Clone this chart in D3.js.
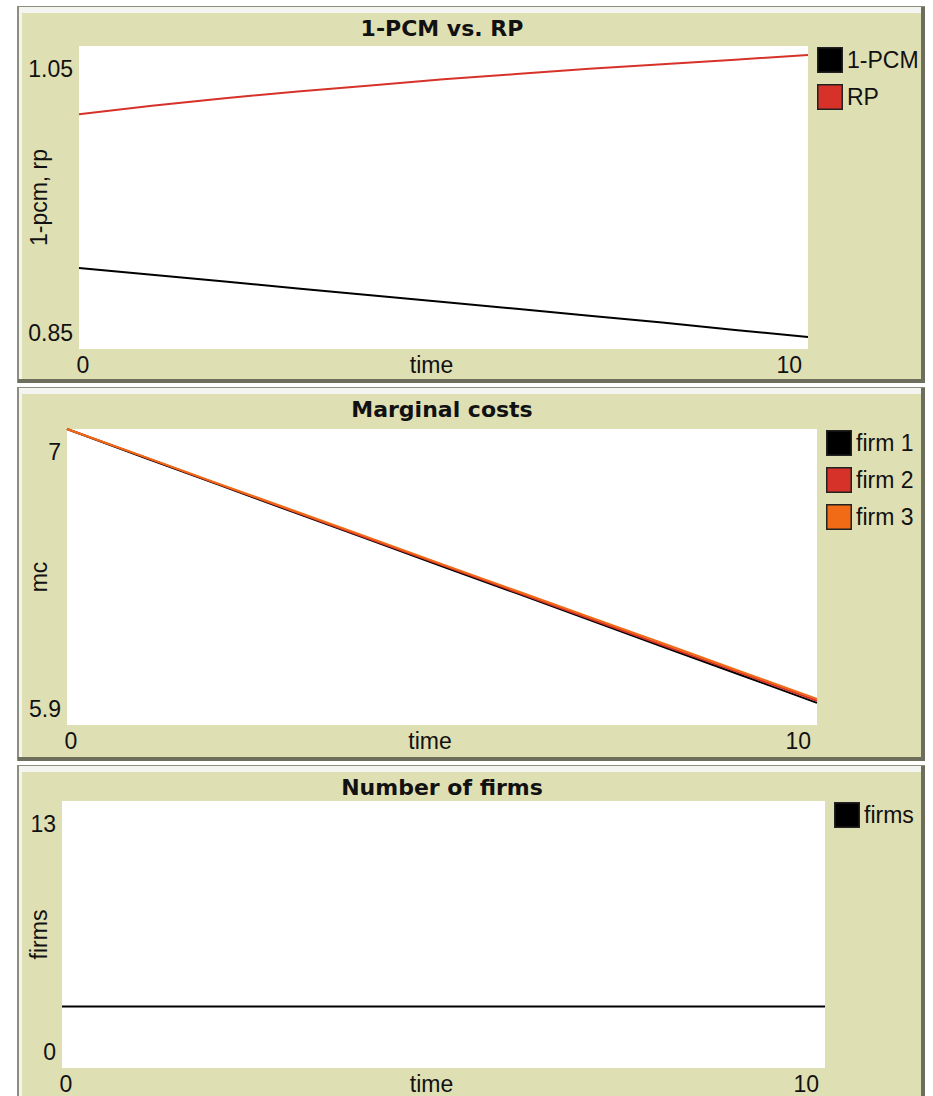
<!DOCTYPE html>
<html>
<head>
<meta charset="utf-8">
<script src="https://cdn.jsdelivr.net/npm/d3@7"></script>
<style>
  body { margin: 0; background: #ffffff; }
  svg { display: block; }
  .tick-label, .axis-title, .legend-label { font-family: "Liberation Sans", Arial, sans-serif; font-size: 23px; fill: #111; }
  .plot-title { font-family: "DejaVu Sans", sans-serif; font-weight: bold; font-size: 22px; fill: #111; }
</style>
</head>
<body>
<div id="chart"></div>
<script>
// Data
const timeSteps = [0, 1, 2, 3, 4, 5, 6, 7, 8, 9, 10];

const pcmValues = [0.9035, 0.899, 0.8945, 0.8900, 0.8855, 0.881, 0.8765, 0.872, 0.8675, 0.8625, 0.858];
const rpValues  = [1.005, 1.0105, 1.0155, 1.020, 1.024, 1.028, 1.0315, 1.035, 1.038, 1.041, 1.044];

const firm1Mc = [7.0, 6.897, 6.795, 6.693, 6.592, 6.490, 6.389, 6.287, 6.185, 6.084, 5.982];
const firm2Mc = [7.0, 6.899, 6.797, 6.696, 6.595, 6.494, 6.393, 6.292, 6.191, 6.091, 5.990];
const firm3Mc = [7.0, 6.900, 6.799, 6.699, 6.599, 6.498, 6.398, 6.298, 6.198, 6.097, 5.997];

const firmsCount = [3, 3, 3, 3, 3, 3, 3, 3, 3, 3, 3];

const plotTitles = ['1-PCM vs. RP', 'Marginal costs', 'Number of firms'];
const yAxisTitles = ['1-pcm, rp', 'mc', 'firms'];
const yDomains = [[0.85, 1.05], [5.9, 7], [0, 13]];
const yTickLabels = [['0.85', '1.05'], ['5.9', '7'], ['0', '13']];
const xTickLabels = ['0', '10'];
const xAxisTitle = 'time';

const seriesNames = [['1-PCM', 'RP'], ['firm 1', 'firm 2', 'firm 3'], ['firms']];
const seriesValues = [[pcmValues, rpValues], [firm1Mc, firm2Mc, firm3Mc], [firmsCount]];
const seriesColors = [['#000000', '#d73229'], ['#000000', '#d73229', '#f16a15'], ['#000000']];

// Panel frames (outer box) and plotting areas
const panels = [
  {outer: {x: 17, y: 6, w: 908, h: 377}, plot: {x0: 79, x1: 808, y0: 46, y1: 349}},
  {outer: {x: 17, y: 387, w: 908, h: 374}, plot: {x0: 67, x1: 817, y0: 429, y1: 725}},
  {outer: {x: 17, y: 765, w: 908, h: 340}, plot: {x0: 62, x1: 825, y0: 801, y1: 1068}}
];

const beige = '#dfdfb4';

const svg = d3.select('#chart').append('svg')
  .attr('width', 933)
  .attr('height', 1096);

svg.append('rect').attr('width', 933).attr('height', 1096).attr('fill', '#ffffff');

panels.forEach((p, i) => {
  const o = p.outer;
  const g = svg.append('g');

  // bevelled frame
  g.append('rect').attr('x', o.x).attr('y', o.y).attr('width', o.w).attr('height', o.h).attr('fill', '#8d8d80');
  g.append('rect').attr('x', o.x + 2).attr('y', o.y + 1).attr('width', o.w - 5).attr('height', o.h - 4).attr('fill', '#f4f4f0');
  g.append('rect').attr('x', o.x + 5).attr('y', o.y + 7).attr('width', o.w - 9).attr('height', o.h - 11).attr('fill', beige);
  g.append('rect').attr('x', o.x + o.w - 4).attr('y', o.y + 1).attr('width', 4).attr('height', o.h - 1).attr('fill', '#6e6e5c');
  g.append('rect').attr('x', o.x + 1).attr('y', o.y + o.h - 4).attr('width', o.w - 1).attr('height', 4).attr('fill', '#6e6e5c');

  const pl = p.plot;
  g.append('rect')
    .attr('x', pl.x0).attr('y', pl.y0)
    .attr('width', pl.x1 - pl.x0).attr('height', pl.y1 - pl.y0)
    .attr('fill', '#ffffff');

  const x = d3.scaleLinear().domain([timeSteps[0], timeSteps[timeSteps.length - 1]]).range([pl.x0, pl.x1]);
  const y = d3.scaleLinear().domain(yDomains[i]).range([pl.y1, pl.y0]);

  // title
  g.append('text')
    .attr('class', 'plot-title')
    .attr('x', 442)
    .attr('y', o.y + 22)
    .attr('dy', '0.35em')
    .attr('text-anchor', 'middle')
    .text(plotTitles[i]);

  // y tick labels (min at bottom, max at top)
  g.append('text').attr('class', 'tick-label')
    .attr('x', pl.x0 - 6).attr('y', pl.y1 - 16).attr('dy', '0.35em')
    .attr('text-anchor', 'end').text(yTickLabels[i][0]);
  g.append('text').attr('class', 'tick-label')
    .attr('x', pl.x0 - 6).attr('y', pl.y0 + 23).attr('dy', '0.35em')
    .attr('text-anchor', 'end').text(yTickLabels[i][1]);

  // x tick labels
  g.append('text').attr('class', 'tick-label')
    .attr('x', x(0) + 4).attr('y', pl.y1 + 16).attr('dy', '0.35em')
    .attr('text-anchor', 'middle').text(xTickLabels[0]);
  g.append('text').attr('class', 'tick-label')
    .attr('x', x(10) - 6).attr('y', pl.y1 + 16).attr('dy', '0.35em')
    .attr('text-anchor', 'end').text(xTickLabels[1]);

  // axis titles
  g.append('text').attr('class', 'axis-title')
    .attr('x', (pl.x0 + pl.x1) / 2 - 12).attr('y', pl.y1 + 16).attr('dy', '0.35em')
    .attr('text-anchor', 'middle').text(xAxisTitle);
  g.append('text').attr('class', 'axis-title')
    .attr('transform', `translate(39,${(pl.y0 + pl.y1) / 2}) rotate(-90)`)
    .attr('dy', '0.35em')
    .attr('text-anchor', 'middle').text(yAxisTitles[i]);

  // lines
  const line = d3.line()
    .x((d, j) => x(timeSteps[j]))
    .y(d => y(d));

  seriesValues[i].forEach((vals, k) => {
    g.append('path')
      .datum(vals)
      .attr('d', line)
      .attr('fill', 'none')
      .attr('stroke', seriesColors[i][k])
      .attr('stroke-width', 2);
  });

  // legend
  const legend = g.append('g')
    .attr('transform', `translate(${pl.x1 + 9},${pl.y0 + 1})`);
  const items = legend.selectAll('g')
    .data(seriesNames[i])
    .enter()
    .append('g')
    .attr('transform', (d, k) => `translate(0,${k * 37})`);
  items.append('rect')
    .attr('x', 0.75).attr('y', 0.75)
    .attr('width', 24.5).attr('height', 24.5)
    .attr('fill', (d, k) => seriesColors[i][k])
    .attr('stroke', '#222')
    .attr('stroke-width', 1.5);
  items.append('text')
    .attr('class', 'legend-label')
    .attr('x', 30).attr('y', 13).attr('dy', '0.35em')
    .text(d => d);
});
</script>
</body>
</html>
